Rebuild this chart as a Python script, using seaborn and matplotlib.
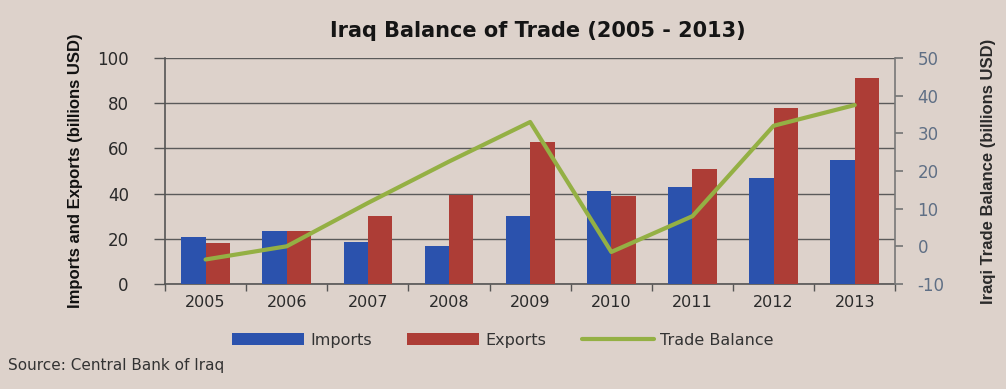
import matplotlib
matplotlib.use("Agg")
import matplotlib.pyplot as plt
import seaborn as sns
import pandas as pd
import numpy as np
from matplotlib.patches import Patch
from matplotlib.lines import Line2D

years = ["2005", "2006", "2007", "2008", "2009", "2010", "2011", "2012", "2013"]
imports = [21, 23.5, 18.5, 17, 30, 41, 43, 47, 55]
exports = [18, 23.5, 30, 39.5, 63, 39, 51, 78, 91]
trade_balance = [-3.5, 0, 11.5, 22.5, 33, -1.5, 8, 32, 37.5]

BG = "#ddd2cb"
BLUE = "#2b52ad"
RED = "#ad3d36"
GREEN = "#94b044"

sns.set_theme(style="white")
plt.rcParams["font.family"] = ["DejaVu Sans"]
plt.rcParams["axes.unicode_minus"] = False

df = pd.DataFrame({
    "Year": years * 2,
    "Value": imports + exports,
    "Series": ["Imports"] * len(years) + ["Exports"] * len(years),
})

fig = plt.figure(figsize=(10.06, 3.89), dpi=100, facecolor=BG)
ax = fig.add_axes([0.164, 0.27, 0.726, 0.581])
ax.set_facecolor(BG)

sns.barplot(data=df, x="Year", y="Value", hue="Series",
            palette={"Imports": BLUE, "Exports": RED},
            width=0.6, saturation=1, ax=ax, legend=False, zorder=3,
            linewidth=0, edgecolor="none")

ax.set_xlim(-0.5, len(years) - 0.5)
ax.set_ylim(0, 100)
ax.set_yticks([0, 20, 40, 60, 80, 100])
ax.yaxis.grid(True, color="#5a5a5a", linewidth=1.0, zorder=0)
ax.set_axisbelow(True)
ax.set_xlabel("")
ax.set_ylabel("Imports and Exports (billions USD)",
              family=["Liberation Sans Narrow", "Liberation Sans"],
              fontweight="bold", fontsize=12, color="#111111", labelpad=10)
ax.tick_params(axis="y", labelsize=12, colors="#555555", length=8, width=1,
               direction="out", left=True, pad=18)
for t in ax.get_yticklabels():
    t.set_color("#2a2a2a")
ax.tick_params(axis="x", labelsize=11.5, colors="#2a2a2a", length=0, pad=8)
ax.set_xticks(np.arange(-0.5, len(years)), minor=True)
ax.tick_params(axis="x", which="minor", length=5, color="#555555", bottom=True)
for s in ["top", "right"]:
    ax.spines[s].set_visible(False)
for s in ["left", "bottom"]:
    ax.spines[s].set_color("#555555")
    ax.spines[s].set_linewidth(1.2)

ax2 = ax.twinx()
sns.lineplot(x=np.arange(len(years)), y=trade_balance, ax=ax2,
             color=GREEN, linewidth=3, zorder=5)
ax2.set_ylim(-10, 50)
ax2.set_yticks([-10, 0, 10, 20, 30, 40, 50])
ax2.tick_params(axis="y", labelsize=12, colors="#777777", length=6,
                direction="out", pad=10)
for t in ax2.get_yticklabels():
    t.set_color("#5f6f85")
ax2.set_ylabel("Iraqi Trade Balance (billions USD)",
               family=["Liberation Sans Narrow", "Liberation Sans"],
               fontweight="bold", fontsize=12, color="#2a2a2a", labelpad=26)
for s in ["top", "left", "bottom"]:
    ax2.spines[s].set_visible(False)
ax2.spines["right"].set_color("#777777")
ax2.spines["right"].set_linewidth(1.2)
ax2.grid(False)

fig.text(0.535, 0.92, "Iraq Balance of Trade (2005 - 2013)",
         ha="center", va="center", fontsize=15, fontweight="bold", color="#151515")

handles = [
    Patch(facecolor=BLUE, edgecolor="none"),
    Patch(facecolor=RED, edgecolor="none"),
    Line2D([0], [0], color=GREEN, linewidth=3),
]
fig.legend(handles, ["Imports", "Exports", "Trade Balance"],
           loc="center", bbox_to_anchor=(0.5, 0.125), ncol=3, frameon=False,
           fontsize=11.5, handlelength=4.5, handleheight=0.8,
           columnspacing=2.2, handletextpad=0.4, labelcolor="#333333")

fig.text(0.008, 0.06, "Source: Central Bank of Iraq", ha="left", va="center",
         fontsize=11, color="#333333")

fig.savefig("out.png", dpi=100, facecolor=BG)
